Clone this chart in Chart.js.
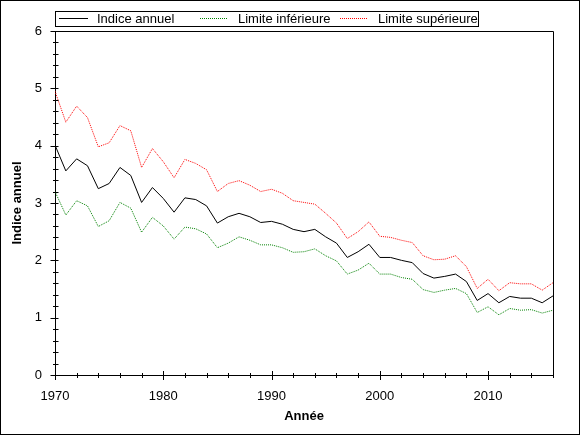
<!DOCTYPE html>
<html>
<head>
<meta charset="utf-8">
<script src="https://cdn.jsdelivr.net/npm/chart.js@4/dist/chart.umd.min.js"></script>
<style>
html,body{margin:0;padding:0;background:#fff;}
#wrap{width:580px;height:435px;}
</style>
</head>
<body>
<div id="wrap"><canvas id="c" width="580" height="435"></canvas></div>
<script>
const years = [1970,1971,1972,1973,1974,1975,1976,1977,1978,1979,
  1980,1981,1982,1983,1984,1985,1986,1987,1988,1989,
  1990,1991,1992,1993,1994,1995,1996,1997,1998,1999,
  2000,2001,2002,2003,2004,2005,2006,2007,2008,2009,
  2010,2011,2012,2013,2014,2015,2016];
const indiceAnnuel = [4.01,3.56,3.77,3.65,3.25,3.34,3.62,3.48,3.01,3.27,
  3.08,2.84,3.09,3.06,2.95,2.65,2.76,2.82,2.76,2.66,
  2.68,2.63,2.54,2.50,2.54,2.41,2.30,2.05,2.15,2.28,
  2.05,2.05,2.00,1.96,1.77,1.69,1.72,1.76,1.63,1.30,
  1.42,1.26,1.37,1.34,1.34,1.26,1.38];
const limiteInferieure = [3.20,2.79,3.04,2.95,2.59,2.69,3.01,2.91,2.49,2.75,
  2.60,2.37,2.58,2.55,2.46,2.22,2.30,2.41,2.35,2.27,
  2.27,2.22,2.14,2.15,2.20,2.08,1.99,1.76,1.83,1.95,
  1.76,1.76,1.70,1.67,1.49,1.44,1.48,1.51,1.42,1.09,
  1.19,1.05,1.16,1.13,1.14,1.08,1.13];
const limiteSuperieure = [4.95,4.41,4.69,4.49,3.98,4.05,4.35,4.26,3.62,3.95,
  3.72,3.44,3.76,3.69,3.58,3.20,3.34,3.39,3.31,3.20,
  3.24,3.17,3.04,3.01,2.98,2.82,2.65,2.38,2.50,2.67,
  2.42,2.40,2.35,2.31,2.08,2.01,2.02,2.08,1.89,1.51,
  1.67,1.47,1.61,1.59,1.59,1.48,1.61];
const seriesLabels = ['Indice annuel','Limite inférieure','Limite supérieure'];
const seriesColors = ['#000000','#008000','#ff0000'];
const xTitle = 'Année';
const yTitle = 'Indice annuel';

const FONT = 'Liberation Sans, Arial, sans-serif';

function pts(arr){ return years.map((y,i)=>({x:y,y:arr[i]})); }

const decor = {
  id:'decor',
  afterDraw(chart){
    const ctx = chart.ctx, a = chart.chartArea;
    const xs = chart.scales.x, ys = chart.scales.y;
    ctx.save();
    ctx.strokeStyle = '#000'; ctx.lineWidth = 1;
    ctx.strokeRect(0.5,0.5,chart.width-1,chart.height-1);
    const L = Math.round(a.left)+0.5, R = Math.round(a.right)+0.5, T = Math.round(a.top)+0.5, B = Math.round(a.bottom)+0.5;
    ctx.beginPath();
    ctx.moveTo(L,T); ctx.lineTo(R,T); ctx.lineTo(R,B);
    ctx.stroke();
    ctx.beginPath();
    for(let v=xs.min; v<=xs.max; v+=2){
      const px = Math.round(xs.getPixelForValue(v))+0.5;
      const major = (v%10===0);
      const h = major?4.5:2.5;
      ctx.moveTo(px,B-h); ctx.lineTo(px,B+h);
    }
    for(let k=0;k<=30;k++){
      const v = k/5;
      const py = Math.round(ys.getPixelForValue(v))+0.5;
      const major = (k%5===0);
      const lw = major?5:2.5;
      ctx.moveTo(L-lw,py); ctx.lineTo(L+3,py);
    }
    ctx.stroke();
    ctx.strokeRect(55.5,11.5,423,15);
    const samples = [[59,88,97],[200,227,238],[340,367,378]];
    ctx.font = '13px '+FONT;
    ctx.textBaseline = 'middle';
    samples.forEach((s,i)=>{
      ctx.beginPath();
      ctx.strokeStyle = seriesColors[i];
      ctx.setLineDash(i===0?[]:[1,1]);
      ctx.moveTo(s[0],18.5); ctx.lineTo(s[1],18.5);
      ctx.stroke();
      ctx.setLineDash([]);
      ctx.fillStyle = '#000';
      ctx.fillText(seriesLabels[i], s[2], 19);
    });
    ctx.restore();
  }
};

new Chart(document.getElementById('c'), {
  type:'line',
  data:{
    datasets:[
      {label:seriesLabels[0], data:pts(indiceAnnuel), borderColor:seriesColors[0], borderWidth:1, pointRadius:0, tension:0, order:1},
      {label:seriesLabels[1], data:pts(limiteInferieure), borderColor:seriesColors[1], borderWidth:1, borderDash:[1,1], pointRadius:0, tension:0, order:2},
      {label:seriesLabels[2], data:pts(limiteSuperieure), borderColor:seriesColors[2], borderWidth:1, borderDash:[1,1], pointRadius:0, tension:0, order:3}
    ]
  },
  options:{
    responsive:false,
    devicePixelRatio:1,
    animation:false,
    events:[],
    layout:{padding:{top:31,right:27,left:0,bottom:0}},
    plugins:{legend:{display:false},tooltip:{enabled:false}},
    scales:{
      x:{
        type:'linear', min:1970, max:2016,
        grid:{display:false, drawTicks:false},
        border:{display:true,color:'#000',width:1},
        ticks:{stepSize:10, color:'#000', font:{family:FONT,size:13}, padding:14, maxRotation:0,
          callback:(v)=> (v%10===0? String(v):'')},
        title:{display:true,text:xTitle,color:'#000',font:{family:FONT,size:13,weight:'bold'},padding:{top:0,bottom:11}},
        afterFit(s){ s.height = 60; }
      },
      y:{
        min:0, max:6,
        grid:{display:false, drawTicks:false},
        border:{display:true,color:'#000',width:1},
        ticks:{stepSize:1, color:'#000', font:{family:FONT,size:13}, padding:13,
          callback:(v)=>String(v)},
        title:{display:true,text:yTitle,color:'#000',font:{family:FONT,size:13,weight:'bold'},padding:{top:10,bottom:0}},
        afterFit(s){ s.width = 55; }
      }
    }
  },
  plugins:[decor]
});
</script>
</body>
</html>
